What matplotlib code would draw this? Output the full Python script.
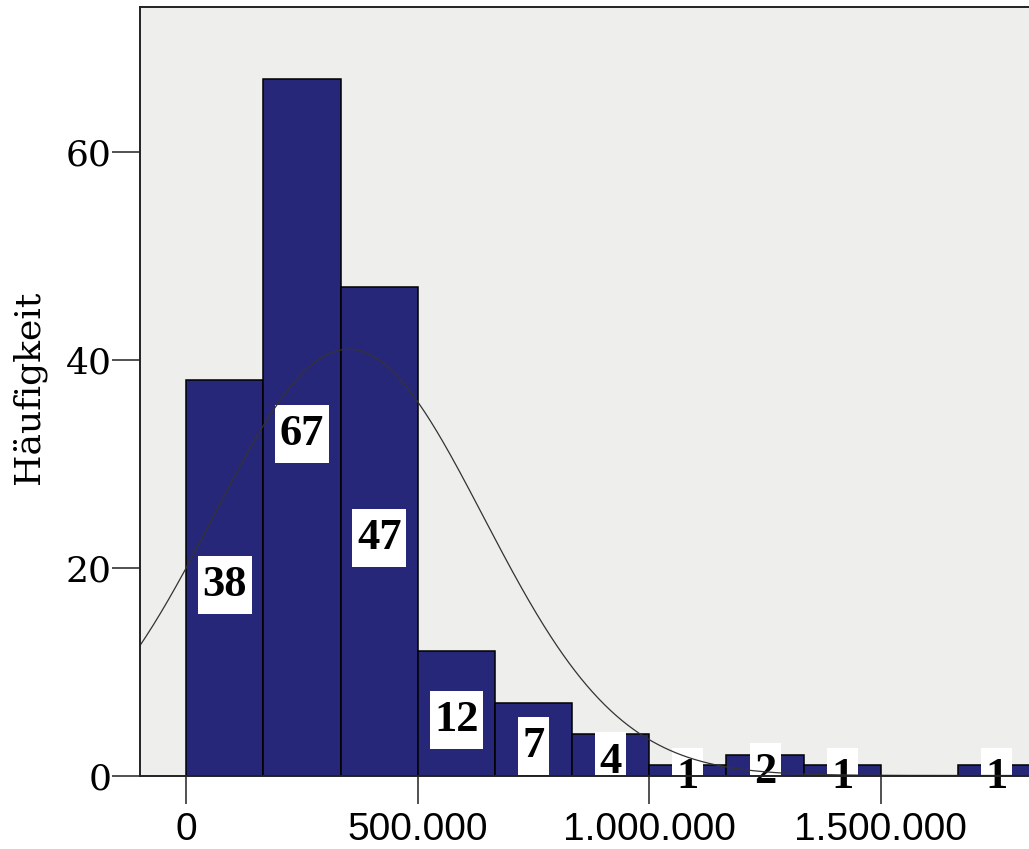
import numpy as np
import matplotlib.pyplot as plt
from matplotlib.path import Path
from matplotlib.ticker import FuncFormatter

# Histogramm: Klassenbreite 166.667, Start bei 0
bin_width = 500000 / 3
counts = [38, 67, 47, 12, 7, 4, 1, 2, 1, 0, 1]
bin_left = [i * bin_width for i in range(len(counts))]

# Normalverteilungskurve
mean = 350000
sd = 292000
n = sum(counts)

x_ticks = [0, 500000, 1000000, 1500000]
y_ticks = [0, 20, 40, 60]

bar_color = '#27277a'
bg_color = '#eeeeec'


# weisses Kaestchen, hoeher als breit gepolstert
def label_box(x0, y0, width, height, mutation_size):
    px = 0.1 * mutation_size
    py = 0.21 * mutation_size
    xa, ya = x0 - px, y0 - py
    xb, yb = x0 + width + px, y0 + height + py
    return Path([(xa, ya), (xb, ya), (xb, yb), (xa, yb), (xa, ya)], closed=True)


fig = plt.figure(figsize=(10.29, 8.49), dpi=100)
ax = fig.add_axes([140 / 1029, 73.5 / 849, 889 / 1029, 768.5 / 849])
ax.set_facecolor(bg_color)

ax.bar(bin_left, counts, width=bin_width, align='edge', color=bar_color,
       edgecolor='black', linewidth=1.1, zorder=2)

# Werte in weissen Kaestchen (Kaestchen an der Achse abgeschnitten)
for left, c in zip(bin_left, counts):
    if c == 0:
        continue
    xc = left + bin_width / 2
    yc = c / 2
    ax.annotate(str(c), (xc, yc), xytext=(0, -5), textcoords='offset points',
                ha='center', va='center', color='none',
                family='Liberation Serif', fontweight='bold', fontsize=32,
                bbox=dict(boxstyle=label_box, fc='white', ec='none'),
                annotation_clip=False, clip_on=True, zorder=3)
    ax.annotate(str(c), (xc, yc), xytext=(0, -5), textcoords='offset points',
                ha='center', va='center', color='black',
                family='Liberation Serif', fontweight='bold', fontsize=32,
                annotation_clip=False, clip_on=False, zorder=4)

xlim = (-100000, 1820000)
xs = np.linspace(xlim[0], xlim[1], 600)
ys = n * bin_width / (sd * np.sqrt(2 * np.pi)) * np.exp(-0.5 * ((xs - mean) / sd) ** 2)
ax.plot(xs, ys, color='#333333', linewidth=0.9, zorder=5)

ax.set_xlim(xlim)
ax.set_ylim(0, 73.9)

ax.set_xticks(x_ticks)
ax.set_yticks(y_ticks)
ax.xaxis.set_major_formatter(FuncFormatter(lambda v, p: f'{int(v):,}'.replace(',', '.')))
ax.tick_params(axis='both', direction='out', length=20, width=1.1, color='#222222')
ax.tick_params(axis='x', pad=6)
ax.tick_params(axis='y', pad=0.5)
for lab in ax.get_xticklabels():
    lab.set_family('Liberation Sans')
    lab.set_fontsize(28)
for lab in ax.get_yticklabels():
    lab.set_family('DejaVu Serif')
    lab.set_fontsize(26)

ax.set_ylabel('Häufigkeit', family='DejaVu Serif', fontsize=26, va='center')
ax.yaxis.set_label_coords(-111 / 889, 0.505)

ax.spines['right'].set_visible(False)
for s in ['left', 'top', 'bottom']:
    ax.spines[s].set_color('#222222')
    ax.spines[s].set_linewidth(1.4)
    ax.spines[s].set_zorder(6)

fig.savefig('out.png', dpi=100)
